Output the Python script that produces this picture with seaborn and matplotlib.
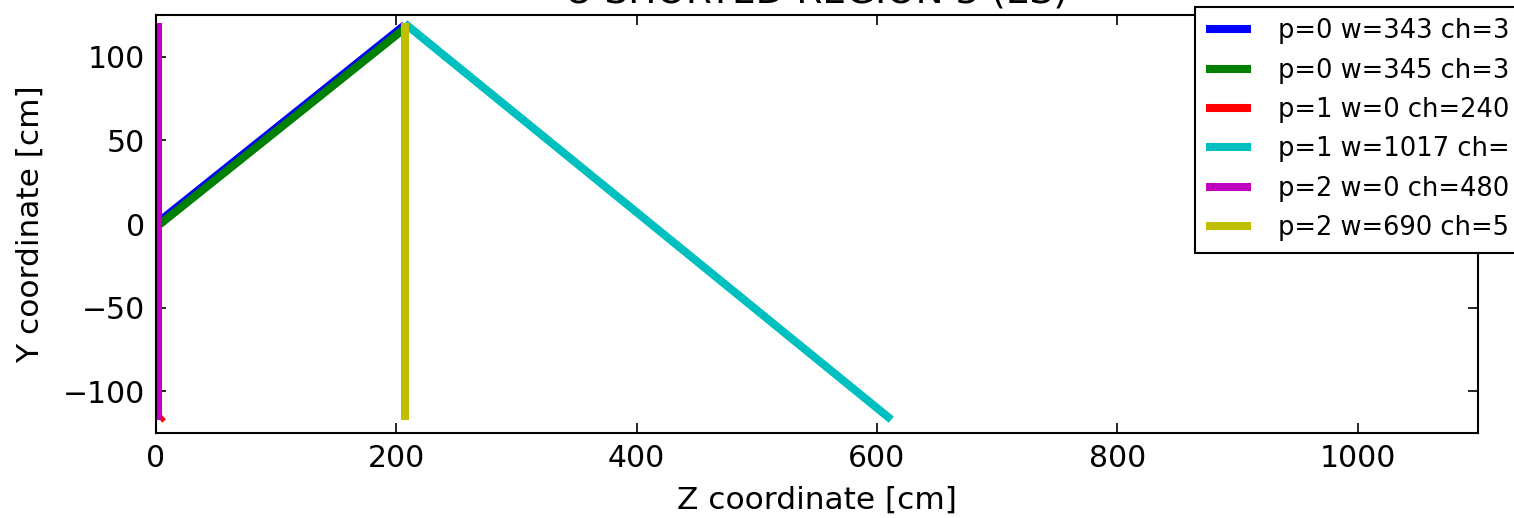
import pandas as pd
import matplotlib
matplotlib.use("Agg")
import matplotlib.pyplot as plt
import seaborn as sns

# wire segments (z, y in cm)
labels = ["p=0 w=343 ch=3", "p=0 w=345 ch=3", "p=1 w=0 ch=240",
          "p=1 w=1017 ch=", "p=2 w=0 ch=480", "p=2 w=690 ch=5"]
colors = ["#0000ff", "#008000", "#ff0000", "#00bfbf", "#bf00bf", "#bfbf00"]
z_start = [0, 0, 3, 207, 1.5, 207]
z_end = [207, 207, 6, 612, 1.5, 207]
y_start = [0, -2, -117, 120, 120, 120]
y_end = [119, 117, -115, -117, -117, -117]

rows = []
for i, lab in enumerate(labels):
    rows.append({"wire": lab, "z": z_start[i], "y": y_start[i]})
    rows.append({"wire": lab, "z": z_end[i], "y": y_end[i]})
df = pd.DataFrame(rows)

sns.set_theme(style="ticks", rc={
    "xtick.direction": "in", "ytick.direction": "in",
    "xtick.top": True, "ytick.right": True,
    "xtick.major.size": 7, "ytick.major.size": 7,
    "xtick.major.width": 1.2, "ytick.major.width": 1.2,
    "axes.linewidth": 1.5, "axes.edgecolor": "black",
    "lines.solid_capstyle": "butt",
})
plt.rcParams["font.family"] = ["DejaVu Sans"]

fig = plt.figure(figsize=(15.14, 5.18), dpi=100)
ax = fig.add_axes([0.103, 0.164, 0.873, 0.807])

sns.lineplot(data=df, x="z", y="y", hue="wire", hue_order=labels,
             palette=colors, sort=False, estimator=None, units="wire",
             linewidth=5.8, ax=ax)

ax.set_xlim(0, 1100)
ax.set_ylim(-125, 125)
ax.set_xticks([0, 200, 400, 600, 800, 1000])
ax.set_yticks([-100, -50, 0, 50, 100])
ax.tick_params(labelsize=21.5, colors="black", pad=8)
ax.set_xlabel("Z coordinate [cm]", fontsize=22.5, color="black", labelpad=9)
ax.set_ylabel("Y coordinate [cm]", fontsize=22.5, color="black", labelpad=13)
ax.set_title("U SHORTED REGION 3 (ES)", fontsize=27, color="black", pad=9)

# legend runs off the right edge in the original; pad labels with blank space
handles, _ = ax.get_legend_handles_labels()
leg = ax.legend(handles, [lab + "\u2007" * 4 for lab in labels],
                loc="upper left", bbox_to_anchor=(0.789, 0.987),
                bbox_transform=fig.transFigure, fontsize=18.5, frameon=True,
                fancybox=False, framealpha=1, edgecolor="black",
                handlelength=1.75, handletextpad=1.05, labelspacing=0.52,
                borderpad=0.45, borderaxespad=0)
leg.get_frame().set_linewidth(1.5)
for t in leg.get_texts():
    t.set_color("black")
for h in leg.get_lines():
    h.set_solid_capstyle("butt")

fig.savefig("out.png", dpi=100)
